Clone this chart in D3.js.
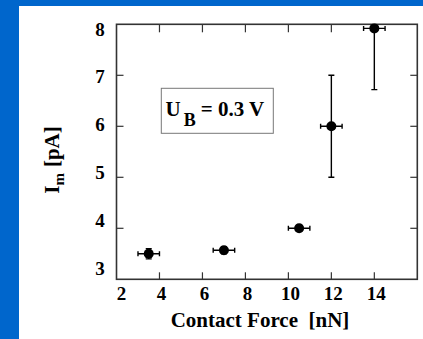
<!DOCTYPE html>
<html lang="en">
<head>
<meta charset="utf-8">
<title>Contact force vs current</title>
<script src="https://cdnjs.cloudflare.com/ajax/libs/d3/7.8.5/d3.min.js"></script>
<style>
  html, body { margin: 0; padding: 0; background: #0066cc; }
  svg { display: block; }
  text { font-family: "Liberation Serif", "Times New Roman", serif; font-weight: bold; fill: #000; }
</style>
</head>
<body>
<script>
// data
var force = [3.5, 7, 10.5, 12, 14];
var forceErr = [0.5, 0.5, 0.5, 0.5, 0.5];
var current = [3.5, 3.57, 4.0, 6.0, 7.92];
var currentLo = [3.4, 3.5, 3.94, 5.0, 6.72];
var currentHi = [3.6, 3.64, 4.06, 7.0, 9.1];
var xTicks = [2, 4, 6, 8, 10, 12, 14];
var yTicks = [3, 4, 5, 6, 7, 8];

var w = 423, h = 339;
var pL = 116.5, pR = 417.3, pT = 24.3, pB = 279.3;

var svg = d3.select("body").append("svg")
    .attr("width", w)
    .attr("height", h);

// white page area
svg.append("rect")
    .attr("x", 19).attr("y", 6)
    .attr("width", w - 19).attr("height", h - 6)
    .attr("fill", "#fff");

var x = d3.scaleLinear().domain([2, 16]).range([pL, pR]);
var y = d3.scaleLinear().domain([3, 8]).range([pB, pT]);
// tick labels sit a bit compressed in the original
var yLab = d3.scaleLinear().domain([3, 8]).range([268, 29]);

svg.append("clipPath").attr("id", "clip")
  .append("rect")
    .attr("x", pL).attr("y", pT)
    .attr("width", pR - pL).attr("height", pB - pT);

// inward ticks on all four sides
var tk = svg.append("g").attr("stroke", "#333").attr("stroke-width", 1.2);
xTicks.filter(function (d) { return d > 2; }).forEach(function (d) {
    tk.append("line").attr("x1", x(d)).attr("x2", x(d)).attr("y1", pB).attr("y2", pB - 7);
    tk.append("line").attr("x1", x(d)).attr("x2", x(d)).attr("y1", pT).attr("y2", pT + 8);
});
yTicks.filter(function (d) { return d > 3 && d < 8; }).forEach(function (d) {
    tk.append("line").attr("x1", pL).attr("x2", pL + 7).attr("y1", y(d)).attr("y2", y(d));
    tk.append("line").attr("x1", pR).attr("x2", pR - 7).attr("y1", y(d)).attr("y2", y(d));
});

// frame
svg.append("rect")
    .attr("x", pL).attr("y", pT)
    .attr("width", pR - pL).attr("height", pB - pT)
    .attr("fill", "none")
    .attr("stroke", "#333")
    .attr("stroke-width", 1.6);

// tick labels
svg.selectAll(".xl").data(xTicks).enter().append("text")
    .attr("class", "xl")
    .attr("x", function (d) { return x(d) + (d === 2 ? 5 : 2); })
    .attr("y", 300)
    .attr("text-anchor", "middle")
    .attr("font-size", 19)
    .text(function (d) { return d; });

svg.selectAll(".yl").data(yTicks).enter().append("text")
    .attr("class", "yl")
    .attr("x", 100)
    .attr("y", function (d) { return yLab(d); })
    .attr("dy", "0.35em")
    .attr("text-anchor", "middle")
    .attr("font-size", 19)
    .text(function (d) { return d; });

// axis titles
svg.append("text")
    .attr("x", 260).attr("y", 327)
    .attr("text-anchor", "middle")
    .attr("font-size", 21)
    .style("white-space", "pre")
    .text("Contact Force  [nN]");

var yt = svg.append("text")
    .attr("transform", "translate(59,160) rotate(-90)")
    .attr("text-anchor", "middle")
    .attr("font-size", 21);
yt.append("tspan").text("I");
yt.append("tspan").attr("font-size", 15).attr("dy", 5).text("m");
yt.append("tspan").attr("dy", -5).attr("dx", 6).text("[pA]");

// annotation box
svg.append("rect")
    .attr("x", 161.3).attr("y", 88.3)
    .attr("width", 112).attr("height", 45)
    .attr("fill", "none")
    .attr("stroke", "#777")
    .attr("stroke-width", 1);
var ann = svg.append("text")
    .attr("x", 165.5).attr("y", 116)
    .attr("font-size", 21);
ann.append("tspan").text("U");
ann.append("tspan").attr("dx", 3).attr("dy", 10).attr("font-size", 18).text("B");
ann.append("tspan").attr("dx", 5).attr("dy", -10).text("= 0.3 V");

// error bars and points
var pts = force.map(function (f, i) {
    return { x: f, xe: forceErr[i], y: current[i], lo: currentLo[i], hi: currentHi[i] };
});
var g = svg.append("g").attr("clip-path", "url(#clip)")
    .attr("stroke", "#000").attr("stroke-width", 1.4);

pts.forEach(function (d) {
    g.append("line").attr("x1", x(d.x - d.xe)).attr("x2", x(d.x + d.xe))
        .attr("y1", y(d.y)).attr("y2", y(d.y));
    [d.x - d.xe, d.x + d.xe].forEach(function (e) {
        g.append("line").attr("x1", x(e)).attr("x2", x(e))
            .attr("y1", y(d.y) - 2.5).attr("y2", y(d.y) + 2.5);
    });
    g.append("line").attr("x1", x(d.x)).attr("x2", x(d.x))
        .attr("y1", y(d.lo)).attr("y2", y(d.hi));
    [d.lo, d.hi].forEach(function (e) {
        g.append("line").attr("x1", x(d.x) - 3).attr("x2", x(d.x) + 3)
            .attr("y1", y(e)).attr("y2", y(e));
    });
});

svg.selectAll(".pt").data(pts).enter().append("circle")
    .attr("class", "pt")
    .attr("cx", function (d) { return x(d.x); })
    .attr("cy", function (d) { return y(d.y); })
    .attr("r", 5)
    .attr("fill", "#000");
</script>
</body>
</html>
